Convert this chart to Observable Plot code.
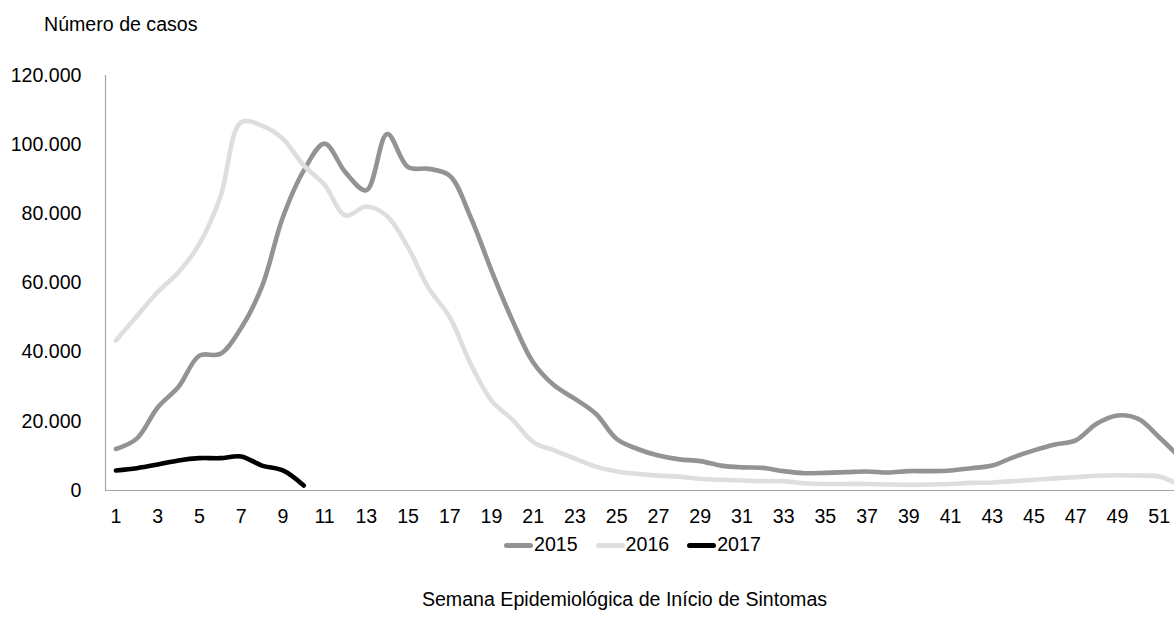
<!DOCTYPE html>
<html>
<head>
<meta charset="utf-8">
<script src="https://cdn.jsdelivr.net/npm/d3@7"></script>
<script src="https://cdn.jsdelivr.net/npm/@observablehq/plot@0.6"></script>
<style>
  html, body { margin: 0; padding: 0; background: #fff; overflow: hidden; }
  #wrap { position: relative; width: 1174px; height: 626px; overflow: hidden;
          font-family: "Liberation Sans", Arial, sans-serif; color: #000; }
  #chart { position: absolute; left: 0; top: 0; }
  .txt { position: absolute; font-size: 19.6px; line-height: 19.6px; white-space: nowrap; }
  #ytitle { left: 44px; top: 15.1px; }
  #xtitle { left: 0; width: 1249px; text-align: center; top: 590.2px; }
  #legend { position: absolute; left: 504px; top: 535.4px; display: flex; align-items: center;
            font-size: 19.6px; line-height: 19.6px; }
  .item { display: flex; align-items: center; margin-right: 18px; }
  .sw { width: 29px; height: 5px; border-radius: 2.5px; margin-right: 1px; }
</style>
</head>
<body>
<div id="wrap">
  <div id="chart"></div>
  <div class="txt" id="ytitle">Número de casos</div>
  <div id="legend"></div>
  <div class="txt" id="xtitle">Semana Epidemiológica de Início de Sintomas</div>
</div>
<script>
// Epidemiological weeks (categories)
const weeks = [1, 2, 3, 4, 5, 6, 7, 8, 9, 10, 11, 12, 13, 14, 15, 16, 17, 18, 19, 20,
  21, 22, 23, 24, 25, 26, 27, 28, 29, 30, 31, 32, 33, 34, 35, 36, 37, 38, 39, 40,
  41, 42, 43, 44, 45, 46, 47, 48, 49, 50, 51, 52];

// Series values (number of cases per week)
const cases2015 = [12000, 15000, 24000, 30000, 39000, 39500, 47000, 59000, 79000, 92500,
  100300, 92000, 86800, 103100, 93500, 93000, 91000, 79000, 63600, 49200,
  37000, 30400, 26500, 22200, 14900, 12000, 10100, 9000, 8500, 7200,
  6700, 6550, 5600, 5000, 5100, 5300, 5500, 5200, 5600, 5600,
  5800, 6450, 7200, 9600, 11600, 13300, 14500, 19300, 21700, 20700,
  15400, 9500];
const cases2016 = [43400, 50400, 57400, 63100, 71300, 84800, 106500, 105500, 101700, 94000,
  88400, 79500, 82100, 79300, 70300, 58400, 50100, 36600, 26000, 20500,
  14000, 11600, 9200, 6900, 5500, 4800, 4300, 4000, 3400, 3100,
  2900, 2700, 2700, 2100, 1900, 1900, 1900, 1750, 1650, 1750,
  1900, 2200, 2300, 2700, 3100, 3500, 3850, 4250, 4400, 4300,
  4050, 1500];
const cases2017 = [5800, 6450, 7500, 8700, 9350, 9350, 9850, 7200, 5800, 1450];

const seriesNames = ["2015", "2016", "2017"];
const seriesColors = ["#939393", "#dedede", "#000000"];

// Tick labels
const xTicks = [1, 3, 5, 7, 9, 11, 13, 15, 17, 19, 21, 23, 25, 27, 29, 31, 33, 35, 37, 39, 41, 43, 45, 47, 49, 51];
const yTicks = [0, 20000, 40000, 60000, 80000, 100000, 120000];

const toRows = (vals) => vals.map((v, i) => ({week: weeks[i], cases: v}));
const rows2015 = toRows(cases2015);
const rows2016 = toRows(cases2016);
const rows2017 = toRows(cases2017);

const fmt = d => d === 0 ? "0" : d3.format(",")(d).replace(/,/g, ".");

const lineOpts = (color) => ({
  x: "week", y: "cases", stroke: color, strokeWidth: 4.6,
  curve: "catmull-rom", strokeLinecap: "round", strokeLinejoin: "round"
});

const chart = Plot.plot({
  width: 1174,
  height: 560,
  marginTop: 75,
  marginBottom: 70,
  marginLeft: 105,
  marginRight: 0,
  style: {
    fontFamily: '"Liberation Sans", Arial, sans-serif',
    fontSize: "19.6px",
    color: "#000",
    background: "transparent",
    overflow: "hidden"
  },
  x: {
    domain: [0.5, 52.5], range: [105, 1190], ticks: xTicks,
    tickSize: 0, tickPadding: 19, tickFormat: d => String(d), label: null
  },
  y: {
    domain: [0, 120000], ticks: yTicks,
    tickSize: 0, tickPadding: 24, tickFormat: fmt, label: null
  },
  marks: [
    Plot.ruleX([0.5], {stroke: "#a6a6a6", strokeWidth: 1.2}),
    Plot.line(rows2015, lineOpts(seriesColors[0])),
    Plot.line(rows2016, lineOpts(seriesColors[1])),
    Plot.line(rows2017, lineOpts(seriesColors[2])),
    Plot.ruleY([0], {stroke: "#a6a6a6", strokeWidth: 1.2})
  ]
});
document.getElementById("chart").appendChild(chart);

// Legend
const legend = document.getElementById("legend");
seriesNames.forEach((name, i) => {
  const item = document.createElement("div");
  item.className = "item";
  const sw = document.createElement("div");
  sw.className = "sw";
  sw.style.background = seriesColors[i];
  const t = document.createElement("span");
  t.textContent = name;
  item.appendChild(sw);
  item.appendChild(t);
  legend.appendChild(item);
});
</script>
</body>
</html>
